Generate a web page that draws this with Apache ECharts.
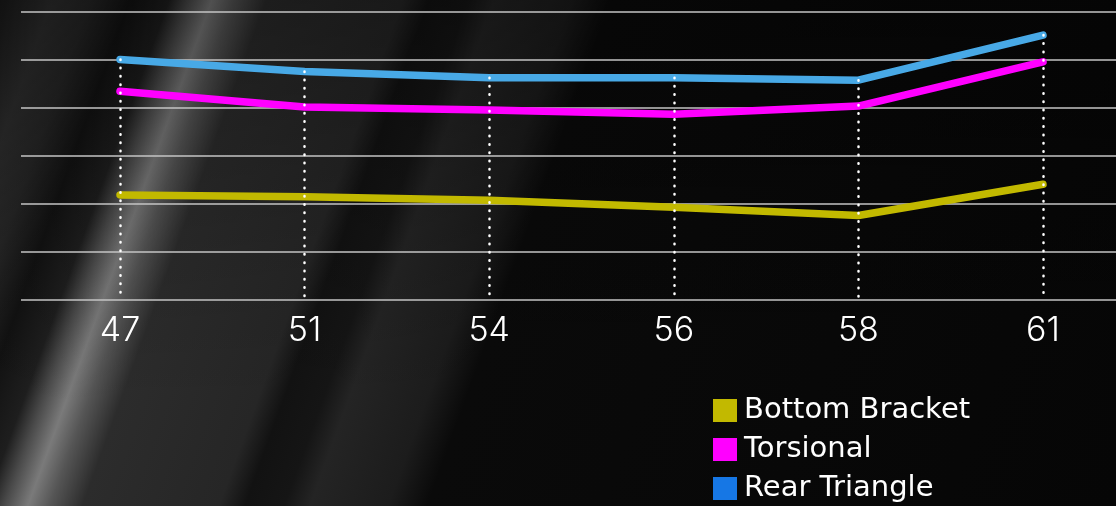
<!DOCTYPE html>
<html>
<head>
<meta charset="utf-8">
<script src="https://cdn.jsdelivr.net/npm/echarts@6/dist/echarts.min.js"></script>
<style>
html,body{margin:0;padding:0;width:1116px;height:506px;overflow:hidden;
background:#050505;}
#bg{position:absolute;left:0;top:0;width:1116px;height:506px;
background:
 linear-gradient(to bottom,rgba(0,0,0,0.35) 0%,rgba(0,0,0,0.1) 50%,rgba(0,0,0,0) 80%),
 linear-gradient(110deg,#1a1a1a 0%,#2e2e2e 4%,#262626 7%,#121212 10%,#1e1e1e 13%,#4a4a4a 14.5%,#7a7a7a 16.3%,#555 18%,#2c2c2c 20.5%,#262626 31%,#121212 33%,#151515 36%,#242424 38%,#1c1c1c 44%,#0a0a0a 47%,#060606 100%);}
#chart{position:absolute;left:0;top:0;width:1116px;height:506px;}
</style>
</head>
<body>
<div id="bg"></div>
<div id="chart"></div>
<script>
const categories = ['47', '51', '54', '56', '58', '61'];
const bottomBracket = [2.19, 2.15, 2.08, 1.93, 1.76, 2.41];
const torsional = [4.35, 4.02, 3.96, 3.87, 4.04, 4.96];
const rearTriangle = [5.01, 4.76, 4.63, 4.63, 4.58, 5.52];
const seriesNames = ['Bottom Bracket', 'Torsional', 'Rear Triangle'];

const chart = echarts.init(document.getElementById('chart'), null, {renderer: 'canvas'});
const font = 'Inter, "Noto Sans", sans-serif';
const legendFont = '"DejaVu Sans", sans-serif';

const dropLines = categories.map((c, i) => [
  {coord: [i, rearTriangle[i]]},
  {coord: [i, 0]}
]);

const option = {
  backgroundColor: 'transparent',
  animation: false,
  grid: [
    {left: 21, right: 0, top: 12, bottom: 206},
    {left: 120, right: 73, top: 12, bottom: 206}
  ],
  xAxis: [
    {type: 'value', gridIndex: 0, min: 0, max: 1, show: false},
    {type: 'category', gridIndex: 1, data: categories, boundaryGap: false,
     axisLine: {show: false}, axisTick: {show: false}, splitLine: {show: false},
     axisLabel: {color: '#ffffff', fontSize: 34, fontWeight: 300, fontFamily: font, margin: 14}}
  ],
  yAxis: [
    {type: 'value', gridIndex: 0, min: 0, max: 6, interval: 1,
     axisLine: {show: false}, axisTick: {show: false}, axisLabel: {show: false},
     splitLine: {show: true, lineStyle: {color: '#c4c4c4', width: 1.5}}},
    {type: 'value', gridIndex: 1, min: 0, max: 6, interval: 1, show: false,
     splitLine: {show: false}}
  ],
  legend: {
    orient: 'vertical', left: 713, top: 396, padding: 0, height: 110,
    itemWidth: 24, itemHeight: 23, itemGap: 10, icon: 'rect',
    textStyle: {color: '#ffffff', fontSize: 29, fontFamily: legendFont, padding: [0, 0, 0, 2]},
    data: [
      {name: 'Bottom Bracket', itemStyle: {color: '#C2B900'}},
      {name: 'Torsional', itemStyle: {color: '#FF00FF'}},
      {name: 'Rear Triangle', itemStyle: {color: '#1677E5'}}
    ]
  },
  series: [
    {type: 'line', xAxisIndex: 1, yAxisIndex: 1, data: [], z: 1, silent: true,
     markLine: {silent: true, symbol: 'none', label: {show: false},
       lineStyle: {color: '#ffffff', width: 2.5, type: [0.5, 7.8], cap: 'round', opacity: 1},
       emphasis: {disabled: true},
       data: dropLines}},
    {name: seriesNames[0], type: 'line', xAxisIndex: 1, yAxisIndex: 1, data: bottomBracket,
     showSymbol: false, z: 3, color: '#C2B900',
     lineStyle: {width: 7.5, color: '#C2B900', cap: 'round', join: 'round'}},
    {name: seriesNames[1], type: 'line', xAxisIndex: 1, yAxisIndex: 1, data: torsional,
     showSymbol: false, z: 3, color: '#FF00FF',
     lineStyle: {width: 7.5, color: '#FF00FF', cap: 'round', join: 'round'}},
    {name: seriesNames[2], type: 'line', xAxisIndex: 1, yAxisIndex: 1, data: rearTriangle,
     showSymbol: false, z: 3, color: '#1677E5',
     lineStyle: {width: 7.5, color: '#48A9E6', cap: 'round', join: 'round'}}
  ]
};
chart.setOption(option);
</script>
</body>
</html>
